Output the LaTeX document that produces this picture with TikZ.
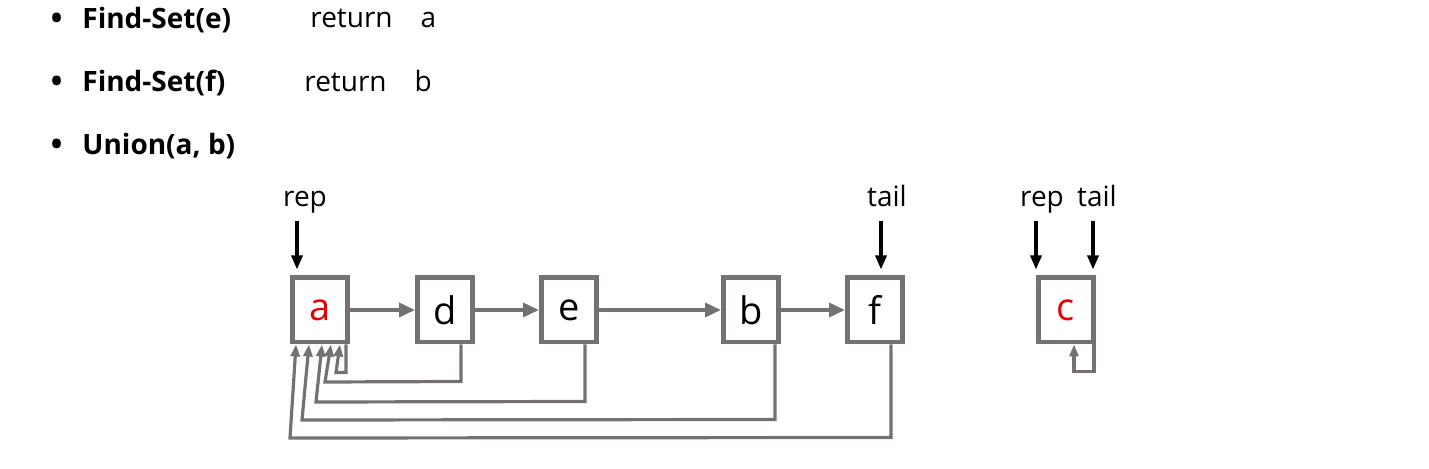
\documentclass[tikz,border=0pt]{standalone}
\usepackage{fontspec}
\setmainfont{Open Sans}
\usetikzlibrary{arrows.meta}

\definecolor{boxgray}{RGB}{118,113,113}
\definecolor{elred}{RGB}{230,0,0}

\tikzset{
  box/.style={draw=boxgray, line width=2.4pt, minimum width=27.6pt, minimum height=32.1pt,
    inner sep=0pt, fill=white, font=\fontsize{19}{22}\selectfont},
  nxt/.style={draw=boxgray, line width=1.8pt, -{Triangle[length=8pt,width=7pt]}},
  back/.style={draw=boxgray, line width=1.6pt, -{Triangle[length=6pt,width=4.5pt]}},
  ptr/.style={line width=1.6pt, -{Triangle[length=7pt,width=5.5pt]}},
  lbl/.style={font=\fontsize{14}{16}\selectfont, inner sep=0pt, anchor=base},
  item/.style={font=\fontsize{14}{17}\selectfont, inner sep=0pt, anchor=west},
  dot/.style={font=\fontsize{20}{20}\selectfont, inner sep=0pt},
}

\begin{document}
\begin{tikzpicture}[x=0.5pt,y=-0.5pt]
\useasboundingbox (0,0) rectangle (1429,469);

% the three operations
\node[dot] (dot1) at (57,23) {•};
\node[dot] (dot2) at (57,86) {•};
\node[dot] (dot3) at (57,149) {•};
\node[item] (op1) at (82,20) {\bfseries Find-Set(e)};
\node[item] (op2) at (82,83) {\bfseries Find-Set(f)};
\node[item] (op3) at (82,146) {\bfseries Union(a, b)};
\node[item] (ret1) at (310,18) {return\hspace{14pt}a};
\node[item] (ret2) at (304,81) {return\hspace{14pt}b};

% linked list after the union
\node[box] (a) at (320,310) {\color{elred}a};
\node[box] (d) at (445,310) {d};
\node[box] (e) at (569,310) {e};
\node[box] (b) at (751,310) {b};
\node[box] (f) at (875,310) {f};
\node[box] (c) at (1066,310) {\color{elred}c};

\draw[nxt] (a) -- (d);
\draw[nxt] (d) -- (e);
\draw[nxt] (e) -- (b);
\draw[nxt] (b) -- (f);

% pointers back to the representative
\draw[back] ([xshift=13pt]a.south) -- ++(0,28) -- ++(-10,0) -- ([xshift=10pt]a.south);
\draw[back] ([xshift=8pt]d.south) -- ++(0,37) -- (325,382) -- ([xshift=5.5pt]a.south);
\draw[back] ([xshift=8pt]e.south) -- ++(0,57) -- (316,402) -- ([xshift=1pt]a.south);
\draw[back] ([xshift=12pt]b.south) -- ++(0,75) -- (302,420) -- ([xshift=-5.5pt]a.south);
\draw[back] ([xshift=8pt]f.south) -- ++(0,93) -- (290,438) -- ([xshift=-12pt]a.south);
\draw[back] ([xshift=14pt]c.south) -- ++(0,27) -- ++(-20,0) -- ([xshift=4pt]c.south);

% rep and tail
\node[lbl] (rep1) at (305,207) {rep};
\node[lbl] (tail1) at (887,207) {tail};
\node[lbl] (rep2) at (1042,207) {rep};
\node[lbl] (tail2) at (1097,207) {tail};
\draw[ptr] ([xshift=-11.5pt,yshift=27pt]a.north) -- ([xshift=-11.5pt,yshift=3pt]a.north);
\draw[ptr] ([xshift=3pt,yshift=27pt]f.north) -- ([xshift=3pt,yshift=3pt]f.north);
\draw[ptr] ([xshift=-15pt,yshift=27pt]c.north) -- ([xshift=-15pt,yshift=3pt]c.north);
\draw[ptr] ([xshift=13.5pt,yshift=27pt]c.north) -- ([xshift=13.5pt,yshift=3pt]c.north);
\end{tikzpicture}
\end{document}
